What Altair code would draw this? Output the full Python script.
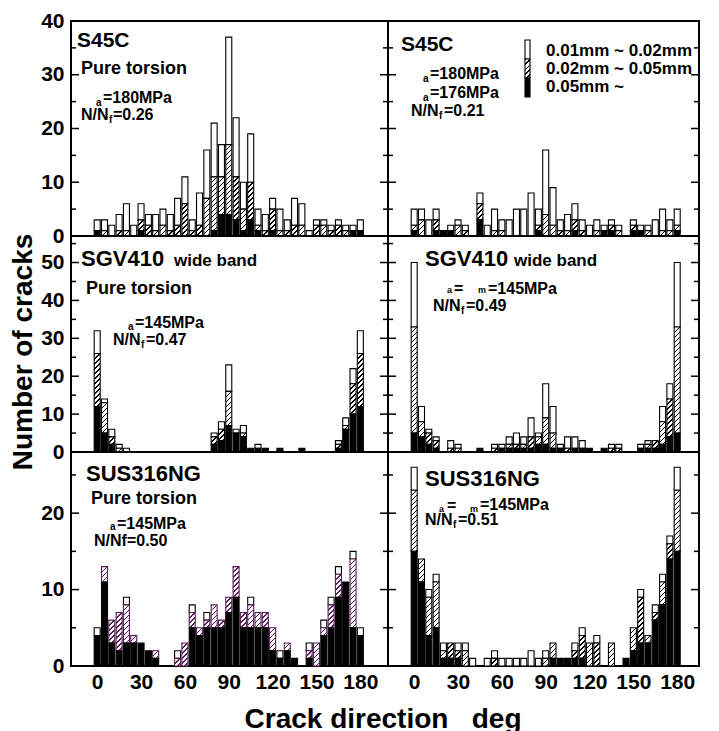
import altair as alt
import pandas as pd

FONT = "Liberation Sans"

# crack direction bins (deg)
angles = list(range(0, 181, 5))

# Cumulative levels: top of black (>=0.05mm),
# top of hatched (0.02-0.05mm) and top of white (0.01-0.02mm) = total
s45c_torsion_total = [3, 3, 2, 4, 6, 2, 6, 4, 4, 5, 4, 7, 11, 3, 8, 16, 21, 17, 37, 22, 10, 19, 5, 4, 7, 5, 3, 7, 6, 1, 3, 3, 2, 3, 2, 2, 3]
s45c_torsion_hatch = [1, 1, 0, 1, 1, 0, 3, 2, 1, 2, 1, 2, 6, 1, 2, 7, 11, 11, 17, 11, 5, 10, 2, 1, 5, 1, 1, 2, 2, 0, 2, 2, 1, 2, 1, 1, 1]
s45c_torsion_black = [1, 0, 0, 0, 0, 0, 1, 0, 0, 0, 0, 0, 0, 0, 0, 0, 1, 4, 4, 3, 1, 3, 1, 0, 1, 0, 0, 0, 0, 0, 0, 0, 0, 0, 0, 1, 1]

s45c_comb_total = [5, 5, 3, 5, 1, 2, 3, 2, 0, 8, 2, 5, 3, 3, 5, 5, 8, 5, 16, 9, 3, 4, 6, 3, 2, 3, 2, 3, 2, 0, 3, 2, 2, 3, 5, 3, 5]
s45c_comb_hatch = [2, 3, 0, 3, 1, 1, 2, 1, 0, 6, 0, 1, 1, 0, 0, 0, 0, 2, 4, 2, 1, 1, 3, 1, 0, 1, 1, 2, 1, 0, 2, 1, 1, 0, 1, 1, 2]
s45c_comb_black = [1, 0, 0, 1, 1, 1, 0, 0, 0, 3, 0, 0, 0, 0, 0, 0, 0, 1, 0, 0, 0, 0, 1, 0, 0, 0, 1, 1, 0, 0, 1, 1, 0, 0, 0, 0, 1]

sgv_torsion_total = [32, 14, 6, 2, 1, 0, 0, 0, 0, 0, 0, 0, 0, 0, 0, 0, 5, 8, 23, 6, 7, 1, 2, 1, 0, 1, 0, 0, 1, 0, 0, 0, 0, 3, 9, 22, 32]
sgv_torsion_hatch = [26, 13, 4, 1, 0, 0, 0, 0, 0, 0, 0, 0, 0, 0, 0, 0, 4, 6, 16, 5, 5, 1, 1, 1, 0, 1, 0, 0, 1, 0, 0, 0, 0, 2, 7, 18, 26]
sgv_torsion_black = [12, 5, 2, 0, 0, 0, 0, 0, 0, 0, 0, 0, 0, 0, 0, 0, 2, 3, 7, 5, 4, 1, 1, 1, 0, 1, 0, 0, 1, 0, 0, 0, 0, 1, 6, 10, 12]

sgv_comb_total = [50, 12, 6, 4, 0, 3, 2, 0, 0, 1, 0, 2, 2, 4, 5, 4, 9, 5, 18, 12, 2, 4, 4, 3, 1, 0, 1, 2, 2, 0, 0, 2, 3, 3, 12, 18, 50]
sgv_comb_hatch = [33, 8, 5, 3, 0, 1, 1, 0, 0, 1, 0, 1, 1, 2, 2, 2, 4, 4, 9, 5, 1, 1, 1, 1, 1, 0, 1, 1, 1, 0, 0, 1, 2, 3, 8, 14, 33]
sgv_comb_black = [5, 4, 2, 1, 0, 0, 0, 0, 0, 1, 0, 0, 1, 1, 1, 1, 1, 2, 2, 1, 1, 0, 1, 1, 1, 0, 1, 0, 0, 0, 0, 1, 1, 1, 2, 4, 5]

sus_torsion_total = [5, 13, 6, 7, 9, 4, 3, 2, 2, 0, 0, 2, 3, 8, 5, 7, 8, 6, 9, 13, 7, 9, 7, 7, 5, 2, 3, 1, 0, 3, 3, 6, 9, 13, 11, 15, 5]
sus_torsion_hatch = [4, 13, 6, 7, 8, 4, 3, 2, 2, 0, 0, 1, 3, 7, 5, 6, 8, 6, 9, 13, 7, 8, 7, 7, 5, 1, 3, 1, 0, 2, 3, 5, 8, 12, 11, 14, 4]
sus_torsion_black = [4, 11, 3, 2, 3, 3, 3, 2, 1, 0, 0, 0, 0, 5, 4, 5, 5, 5, 7, 9, 5, 5, 5, 5, 2, 1, 2, 1, 0, 1, 0, 4, 5, 9, 11, 5, 4]

sus_comb_total = [26, 14, 10, 12, 3, 3, 3, 3, 1, 0, 1, 2, 1, 1, 1, 1, 2, 1, 2, 3, 1, 1, 3, 5, 3, 4, 0, 3, 0, 1, 5, 10, 4, 8, 12, 17, 26]
sus_comb_hatch = [23, 14, 9, 11, 2, 3, 2, 2, 0, 0, 0, 1, 0, 0, 0, 0, 0, 0, 1, 3, 1, 1, 2, 4, 3, 3, 0, 3, 0, 1, 5, 9, 4, 7, 11, 16, 23]
sus_comb_black = [15, 11, 4, 5, 1, 1, 1, 0, 0, 0, 0, 0, 0, 0, 0, 0, 0, 0, 0, 1, 1, 1, 1, 1, 0, 0, 0, 0, 0, 1, 2, 3, 3, 6, 8, 14, 15]

x_ticks = [0, 30, 60, 90, 120, 150, 180]
legend_labels = ["0.01mm ~ 0.02mm", "0.02mm ~ 0.05mm", "0.05mm ~"]

# layout
PW = {"L": 317, "R": 311}
PH = [215, 216, 214]
YMAX = [40, 57, 28]
XDOM = {"L": [-14.5, 195.5], "R": [-14.5, 191.5]}
BAR_W = 6
PURPLE = "#5a1f5a"

one = pd.DataFrame({"v": [0]})


def hatch_grad(hpx, color, w=BAR_W, period=5.0, lw=1.4):
    r = hpx / w
    a = (w + hpx) / (w * (1 + r * r))
    tot = w + hpx
    stops = []
    pos = 0.0
    while pos < tot:
        e = min(pos + lw, tot)
        n = min(pos + period, tot)
        stops += [
            {"offset": round(pos / tot, 5), "color": color},
            {"offset": round(e / tot, 5), "color": color},
            {"offset": round(e / tot, 5), "color": "white"},
            {"offset": round(n / tot, 5), "color": "white"},
        ]
        pos += period
    return {"gradient": "linear", "x1": 0, "y1": 0, "x2": a, "y2": a * r, "stops": stops}


def txt(s, x, y, size, align="left", angle=0, baseline="alphabetic"):
    return alt.Chart(one).mark_text(
        text=s, x=x, y=y, fontSize=size, fontWeight="bold", font=FONT,
        align=align, baseline=baseline, angle=angle, color="black",
    )


def panel(total, hatch, black, col, row, texts, hcolor="black", extra=()):
    w, h, ymax = PW[col], PH[row], YMAX[row]
    ppu = h / ymax
    xs = alt.Scale(domain=XDOM[col], nice=False, zero=False)
    ys = alt.Scale(domain=[0, ymax], nice=False, zero=True)
    if row == 2:
        xax = alt.Axis(values=x_ticks, labelFont=FONT, labelFontSize=21, labelFontWeight="bold",
                       labelColor="black", ticks=False, tickSize=0, domain=False, grid=False,
                       labelPadding=5, labelOverlap=False, labelFlush=False, title=None)
    else:
        xax = None
    if col == "L":
        yax = alt.Axis(values=list(range(0, ymax + 1, 10)), labelFont=FONT, labelFontSize=21,
                       labelFontWeight="bold", labelColor="black", ticks=False, tickSize=0,
                       domain=False, grid=False, labelPadding=7, labelOverlap=False, title=None)
    else:
        yax = None

    X = alt.X("angle:Q", scale=xs, axis=xax)
    Y = alt.Y("lo:Q", scale=ys, axis=yax)

    white_rows = [{"angle": a, "lo": hv, "hi": t} for a, t, hv in zip(angles, total, hatch) if t > hv]
    hatch_rows = [{"angle": a, "lo": b, "hi": hv, "grad": hatch_grad((hv - b) * ppu, hcolor)}
                  for a, hv, b in zip(angles, hatch, black) if hv > b]
    black_rows = [{"angle": a, "lo": 0, "hi": b} for a, b in zip(angles, black) if b > 0]

    layers = [
        alt.Chart(alt.Data(values=white_rows)).mark_bar(size=BAR_W, fill="white", stroke="black", strokeWidth=1.1)
        .encode(x=X, y=Y, y2="hi:Q"),
        alt.Chart(alt.Data(values=hatch_rows)).mark_bar(size=BAR_W, stroke=hcolor, strokeWidth=1.1)
        .encode(x=X, y=Y, y2="hi:Q", fill=alt.Fill("grad:N", scale=None)),
        alt.Chart(alt.Data(values=black_rows)).mark_bar(size=BAR_W, fill="black", stroke="black", strokeWidth=1.1)
        .encode(x=X, y=Y, y2="hi:Q"),
    ]
    major = pd.DataFrame({"lo": [v for v in range(10, ymax, 10)]})
    minor = pd.DataFrame({"lo": [v for v in range(5, ymax, 10)]})
    for df, ln in ((major, 8), (minor, 5)):
        for x0, x1 in ((0, ln), (w - ln, w)):
            layers.append(
                alt.Chart(df).mark_rule(color="black", strokeWidth=1.5)
                .encode(y=Y, x=alt.value(x0), x2=alt.value(x1))
            )
    for t in texts:
        layers.append(txt(*t))
    layers += list(extra)
    return alt.layer(*layers).properties(width=w, height=h)


# legend inside the S45C combined-loading panel
legend_layers = [
    alt.Chart(one).mark_rect(fill="white", stroke="black", strokeWidth=1.1)
    .encode(x=alt.value(137), x2=alt.value(142), y=alt.value(19), y2=alt.value(38)),
    alt.Chart(one).mark_rect(fill=hatch_grad(19, "black", w=5), stroke="black", strokeWidth=1.1)
    .encode(x=alt.value(137), x2=alt.value(142), y=alt.value(38), y2=alt.value(57)),
    alt.Chart(one).mark_rect(fill="black", stroke="black", strokeWidth=1.1)
    .encode(x=alt.value(137), x2=alt.value(142), y=alt.value(57), y2=alt.value(76)),
    txt(legend_labels[0], 158, 35, 17),
    txt(legend_labels[1], 158, 53, 17),
    txt(legend_labels[2], 158, 71, 17),
]

p1 = panel(s45c_torsion_total, s45c_torsion_hatch, s45c_torsion_black, "L", 0, [
    ("S45C", 6, 26, 21), ("Pure torsion", 10, 53, 18), ("a", 25, 85, 10), ("=180MPa", 32, 82, 16),
    ("N/N", 10, 99, 16), ("f", 38, 102, 10), ("=0.26", 42, 99, 16),
])
p2 = panel(s45c_comb_total, s45c_comb_hatch, s45c_comb_black, "R", 0, [
    ("S45C", 13, 30, 21), ("a", 35, 61, 10), ("=180MPa", 42, 58, 16),
    ("a", 35, 80, 10), ("=176MPa", 42, 77, 16),
    ("N/N", 23, 95, 16), ("f", 51, 98, 10), ("=0.21", 56, 95, 16),
], extra=legend_layers)
p3 = panel(sgv_torsion_total, sgv_torsion_hatch, sgv_torsion_black, "L", 1, [
    ("SGV410", 10, 30, 22), ("wide band", 103, 30, 17), ("Pure torsion", 15, 58, 18),
    ("a", 57, 94, 10), ("=145MPa", 64, 92, 16),
    ("N/N", 42, 109, 16), ("f", 70, 112, 10), ("=0.47", 75, 109, 16),
    ("Number of cracks", -47, 116, 28, "center", 270, "middle"),
])
p4 = panel(sgv_comb_total, sgv_comb_hatch, sgv_comb_black, "R", 1, [
    ("SGV410", 37, 30, 22), ("wide band", 126, 30, 17),
    ("a", 59, 57, 9), ("=", 66, 58, 16), ("m", 90, 57, 9), ("=145MPa", 100, 58, 16),
    ("N/N", 45, 75, 16), ("f", 73, 78, 10), ("=0.49", 78, 75, 16),
])
p5 = panel(sus_torsion_total, sus_torsion_hatch, sus_torsion_black, "L", 2, [
    ("SUS316NG", 15, 29, 22), ("Pure torsion", 20, 52, 18),
    ("a", 39, 78, 10), ("=145MPa", 46, 77, 16), ("N/Nf=0.50", 23, 94, 16),
    ("Crack direction\u00a0\u00a0\u00a0deg", 312, 276, 28, "center"),
], hcolor=PURPLE)
p6 = panel(sus_comb_total, sus_comb_hatch, sus_comb_black, "R", 2, [
    ("SUS316NG", 37, 34, 22),
    ("a", 51, 60, 9), ("=", 59, 59, 16), ("m", 82, 60, 9), ("=145MPa", 92, 58, 16),
    ("N/N", 37, 73, 16), ("f", 65, 76, 10), ("=0.51", 70, 73, 16),
])

chart = (
    alt.concat(p1, p2, p3, p4, p5, p6, columns=2, spacing=0, bounds="flush", align="each")
    .resolve_scale(x="independent", y="independent")
    .configure_view(stroke="black", strokeWidth=2)
    .properties(padding={"left": 0, "top": 1, "right": 5, "bottom": 0})
)

chart.save("out.html", embed_options={"renderer": "svg", "actions": False})
